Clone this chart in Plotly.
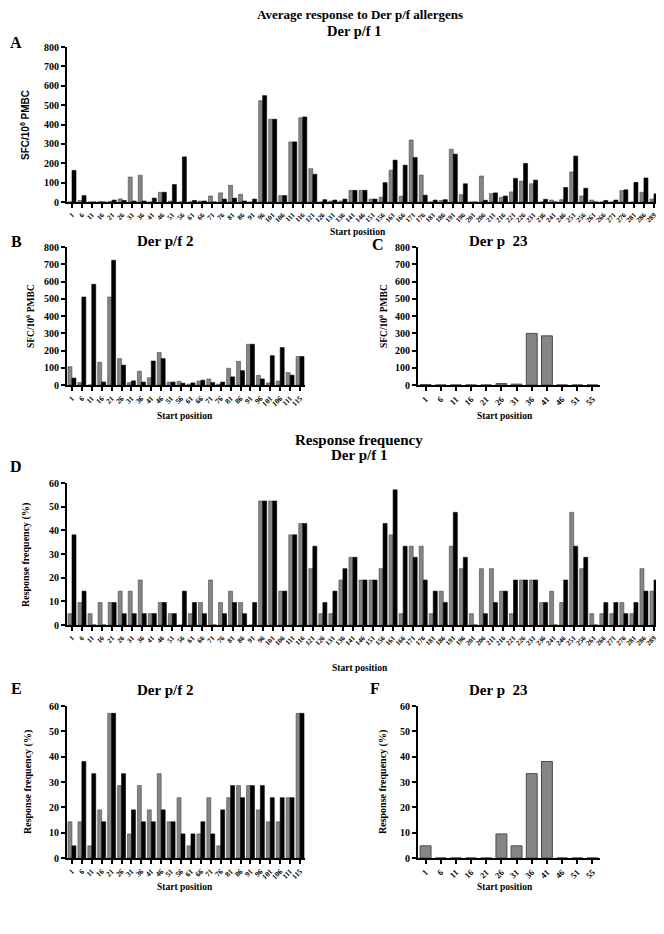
import plotly.graph_objects as go

# ---------------- data ----------------
a_pos = ["1","6","11","16","21","26","31","36","41","46","51","56","61","66","71","76","81","86","91","96",
         "101","106","111","116","121","126","131","136","141","146","151","156","161","166","171","176","181","186","191","196",
         "201","206","211","216","221","226","231","236","241","246","251","256","261","266","271","276","281","286","289"]
a_gray = [0,8,0,3,3,16,129,138,0,50,5,0,0,5,31,47,86,40,0,523,
          427,33,310,435,172,0,5,5,60,60,15,25,164,30,320,139,0,8,272,38,
          0,134,44,24,52,108,94,0,10,12,155,31,10,0,0,59,0,50,15]
a_black = [163,33,0,0,10,8,5,5,20,50,90,233,8,5,0,15,20,5,15,549,
           427,33,310,439,143,12,10,15,60,60,15,100,216,190,230,35,10,12,247,94,
           0,9,47,31,122,199,113,14,0,75,237,71,0,8,10,63,101,124,42]

b_pos = ["1","6","11","16","21","26","31","36","41","46","51","56","61","66","71","76","81","86","91","96","101","106","111","115"]
b_gray = [106,14,0,132,510,153,14,80,42,188,17,21,5,23,35,5,97,137,236,56,12,23,72,165]
b_black = [40,510,584,17,723,115,24,17,139,153,17,10,12,28,14,17,47,83,236,35,170,217,57,165]

c_pos = ["1","6","11","16","21","26","31","36","41","46","51","55"]
c_gray = [3,0,0,0,0,8,5,299,285,0,0,0]

d_gray = [4.8,9.5,4.8,9.5,9.5,14.3,14.3,19,4.8,9.5,4.8,0,4.8,9.5,19,9.5,14.3,9.5,0,52.4,
          52.4,14.3,38.1,42.9,23.8,4.8,4.8,19,28.6,19,19,23.8,38.1,4.8,33.3,33.3,4.8,14.3,33.3,23.8,
          4.8,23.8,23.8,14.3,4.8,19,19,9.5,14.3,9.5,47.6,23.8,4.8,4.8,4.8,9.5,4.8,23.8,14.3]
d_black = [38.1,14.3,0,0,9.5,4.8,4.8,4.8,4.8,9.5,4.8,14.3,9.5,4.8,0,4.8,9.5,4.8,9.5,52.4,
           52.4,14.3,38.1,42.9,33.3,9.5,14.3,23.8,28.6,19,19,42.9,57.1,33.3,28.6,19,14.3,9.5,47.6,28.6,
           0,4.8,9.5,14.3,19,19,19,9.5,0,19,33.3,28.6,0,9.5,9.5,4.8,9.5,14.3,19]

e_gray = [14.3,14.3,4.8,19,57.1,28.6,9.5,28.6,19,33.3,14.3,23.8,4.8,9.5,23.8,4.8,23.8,28.6,28.6,19,14.3,14.3,23.8,57.1]
e_black = [4.8,38.1,33.3,14.3,57.1,33.3,19,14.3,14.3,19,14.3,9.5,9.5,14.3,9.5,19,28.6,23.8,28.6,28.6,23.8,23.8,23.8,57.1]

f_gray = [4.8,0,0,0,0,9.5,4.8,33.3,38.1,0,0,0]

# ---------------- layout helpers ----------------
W, H = 664, 934
def px(x): return x / W
def py(y): return 1 - y / H

SERIF = "Liberation Serif"
SANS = "Liberation Sans"
GRAY = "#858585"
GRAY_LINE = "#4a4a4a"

fig = go.Figure()

panels = [
    # axis suffix, positions, series, x-domain px, y px (top,bottom), ymax, dtick, x tick font size
    ("", a_pos, [a_gray, a_black], (59, 651), (39, 194), 800, 100, 7),
    ("2", b_pos, [b_gray, b_black], (59, 297), (239, 377), 800, 100, 7.5),
    ("3", c_pos, [c_gray], (410, 592), (239, 377), 800, 100, 8.5),
    ("4", a_pos, [d_gray, d_black], (59, 651), (475, 617), 60, 10, 7),
    ("5", b_pos, [e_gray, e_black], (59, 297), (698, 850), 60, 10, 7.5),
    ("6", c_pos, [f_gray], (410, 592), (698, 850), 60, 10, 8.5),
]

layout_axes = {}
for name, pos, series, (x0, x1), (ytop, ybot), ymax, dtick, tfs in panels:
    xa = "x" + name
    ya = "y" + name
    if len(series) == 2:
        specs = [(series[0], GRAY, GRAY_LINE, -0.4), (series[1], "#000000", "#000000", 0.0)]
        width = 0.4
    else:
        specs = [(series[0], GRAY, GRAY_LINE, -0.36)]
        width = 0.72
    for vals, col, lcol, off in specs:
        fig.add_trace(go.Bar(
            x=pos, y=vals, xaxis=xa, yaxis=ya,
            width=width, offset=off,
            marker=dict(color=col, line=dict(color=lcol, width=1 if len(series) == 1 else 0.6)),
            showlegend=False, hoverinfo="x+y",
        ))
    layout_axes["xaxis" + name] = dict(
        domain=[px(x0), px(x1)], anchor=ya, type="category",
        range=[-0.5, len(pos) - 0.5],
        showline=True, linecolor="black", linewidth=2.2,
        ticks="outside", ticklen=4, tickwidth=1.5, tickcolor="black",
        tickangle=-45, showgrid=False, zeroline=False,
        tickfont=dict(family=SERIF, size=tfs, color="black", weight="bold"),
    )
    layout_axes["yaxis" + name] = dict(
        domain=[py(ybot), py(ytop)], anchor=xa,
        range=[0, ymax], dtick=dtick, tick0=0,
        showline=True, linecolor="black", linewidth=2.2,
        ticks="outside", ticklen=4, tickwidth=2, tickcolor="black",
        showgrid=False, zeroline=False,
        tickfont=dict(family=SERIF, size=10, color="black", weight="bold"),
    )

ann = []
def text(x, y, s, size, family=SERIF, angle=0):
    ann.append(dict(x=px(x), y=py(y), xref="paper", yref="paper", text=s, showarrow=False,
                    xanchor="center", yanchor="middle", textangle=angle,
                    font=dict(family=family, size=size, color="black", weight="bold")))

# titles and labels
text(352, 7, "Average response to Der p/f allergens", 13)
text(347, 23, "Der p/f 1", 14.5)
text(8, 34, "A", 16)
text(17, 117, "SFC/10<sup>6</sup> PMBC", 10, SANS, -90)
text(350, 224, "Start position", 9.5)

text(8, 233, "B", 16)
text(157, 233, "Der p/f 2", 15)
text(22, 308, "SFC/10<sup>6</sup> PMBC", 9.5, SERIF, -90)
text(177, 408, "Start position", 9.5)

text(370, 237, "C", 16)
text(490, 233, "Der p  23", 15)
text(375, 308, "SFC/10<sup>6</sup> PMBC", 9.5, SERIF, -90)
text(497, 408, "Start position", 9.5)

text(351, 432, "Response frequency", 15)
text(351, 447, "Der p/f 1", 15)
text(8, 459, "D", 16)
text(18, 547, "Response frequency (%)", 10, SERIF, -90)
text(352, 660, "Start position", 9.5)

text(8, 680, "E", 16)
text(157, 682, "Der p/f 2", 15)
text(20, 774, "Response frequency (%)", 10, SERIF, -90)
text(177, 879, "Start position", 9.5)

text(367, 680, "F", 16)
text(490, 682, "Der p  23", 15)
text(375, 774, "Response frequency (%)", 10, SERIF, -90)
text(497, 879, "Start position", 9.5)

fig.update_layout(
    width=W, height=H,
    margin=dict(l=0, r=0, t=0, b=0, autoexpand=False),
    paper_bgcolor="white", plot_bgcolor="white",
    barmode="overlay",
    annotations=ann,
    **layout_axes,
)

fig.write_html("out.html")
